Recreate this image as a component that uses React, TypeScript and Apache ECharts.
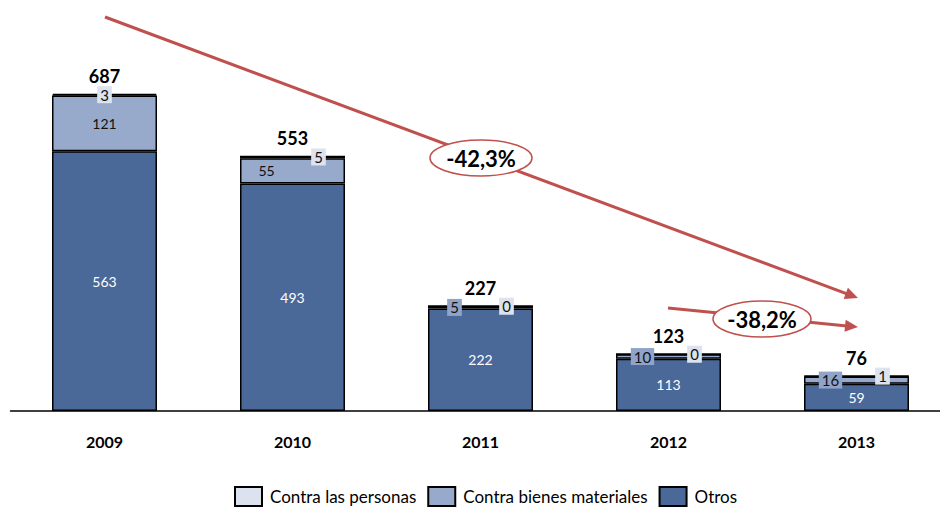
import React, { useEffect, useRef } from 'react';
import * as echarts from 'echarts';

const years = ['2009', '2010', '2011', '2012', '2013'];
const otros = [563, 493, 222, 113, 59];
const bienes = [121, 55, 5, 10, 16];
const personas = [3, 5, 0, 0, 1];
const totals = [687, 553, 227, 123, 76];
const seriesNames = ['Contra las personas', 'Contra bienes materiales', 'Otros'];
const changes = ['-42,3%', '-38,2%'];

const C_OTROS = '#4A6898';
const C_BIENES = '#97AACB';
const C_PERS = '#DCE3EE';
const RED = '#C0504D';
const FONT = 'Lato, "Open Sans", sans-serif';

function arrow(x1: number, y1: number, x2: number, y2: number) {
  const dx = x2 - x1;
  const dy = y2 - y1;
  const len = Math.sqrt(dx * dx + dy * dy);
  const ux = dx / len;
  const uy = dy / len;
  const hl = 13;
  const hw = 6;
  const bx = x2 - ux * hl;
  const by = y2 - uy * hl;
  return [
    {
      type: 'line',
      z: 100,
      shape: { x1, y1, x2: bx + ux * 2, y2: by + uy * 2 },
      style: { stroke: RED, lineWidth: 3 },
    },
    {
      type: 'polygon',
      z: 100,
      shape: {
        points: [
          [x2, y2],
          [bx - uy * hw, by + ux * hw],
          [bx + uy * hw, by - ux * hw],
        ],
      },
      style: { fill: RED },
    },
  ];
}

function bubble(cx: number, cy: number, rx: number, ry: number, text: string) {
  return [
    {
      type: 'ellipse',
      z: 101,
      shape: { cx, cy, rx, ry },
      style: { fill: '#fff', stroke: RED, lineWidth: 1.5 },
    },
    {
      type: 'text',
      z: 102,
      x: cx,
      y: cy,
      style: {
        text,
        fill: '#000',
        font: `bold 22px ${FONT}`,
        align: 'center',
        verticalAlign: 'middle',
      },
    },
  ];
}

export default function App() {
  const ref = useRef<HTMLDivElement>(null);
  useEffect(() => {
    document.body.style.margin = '0';
    if (!ref.current) return;
    const chart = echarts.init(ref.current, null, { renderer: 'svg' });

    const boxLabel = (bg: string, dx: number) => ({
      show: true,
      position: 'inside',
      offset: [dx, 0],
      color: '#111',
      fontSize: 15,
      fontFamily: FONT,
      backgroundColor: bg,
      padding: [1, 3],
    });

    const bienesData = bienes.map((v, i) => {
      if (i === 0) return { value: v, label: { show: true, position: 'inside', color: '#111', fontSize: 14, fontFamily: FONT } };
      if (i === 1) return { value: v, label: { show: true, position: 'inside', offset: [-26, 0], color: '#111', fontSize: 14, fontFamily: FONT } };
      return { value: v, label: boxLabel('#8FA4C8', -26) };
    });
    const persData = personas.map((v, i) => ({
      value: v,
      label: boxLabel(C_PERS, i === 0 ? 0 : 26),
    }));

    const border = { borderColor: '#000', borderWidth: 1.5 };

    chart.setOption({
      animation: false,
      textStyle: { fontFamily: FONT },
      grid: { left: 10.5, width: 940, top: 88, bottom: 96, containLabel: false, outerBoundsMode: 'none' },
      legend: {
        data: seriesNames,
        left: 234,
        bottom: 0,
        padding: 0,
        icon: 'rect',
        itemWidth: 27,
        itemHeight: 19,
        itemGap: 11,
        textStyle: { fontSize: 17, color: '#000', fontFamily: FONT, padding: [0, 0, 0, 3] },
      },
      xAxis: {
        type: 'category',
        data: years,
        axisLine: { lineStyle: { color: '#000', width: 1.5 } },
        axisTick: { show: false },
        axisLabel: { color: '#000', fontWeight: 'bold', fontSize: 16, margin: 22, fontFamily: FONT },
      },
      yAxis: { type: 'value', min: 0, max: 700, show: false, splitLine: { show: false } },
      series: [
        {
          name: 'Otros',
          type: 'bar',
          stack: 'a',
          barWidth: 105,
          data: otros,
          itemStyle: { color: C_OTROS, ...border },
          label: { show: true, position: 'inside', color: '#fff', fontSize: 14, fontFamily: FONT },
        },
        {
          name: 'Contra bienes materiales',
          type: 'bar',
          stack: 'a',
          data: bienesData,
          itemStyle: { color: C_BIENES, ...border },
        },
        {
          name: 'Contra las personas',
          type: 'bar',
          stack: 'a',
          data: persData,
          itemStyle: { color: C_PERS, ...border, borderWidth: 2 },
        },
        {
          name: 'Total',
          type: 'bar',
          stack: 'a',
          data: totals.map(() => 0),
          itemStyle: { color: 'transparent', borderWidth: 0 },
          label: {
            show: true,
            position: 'top',
            distance: 9,
            color: '#000',
            fontWeight: 'bold',
            fontSize: 18,
            fontFamily: FONT,
            formatter: (p: any) => String(totals[p.dataIndex]),
          },
        },
      ],
      graphic: [
        ...arrow(105, 17, 858, 298),
        ...bubble(481, 158, 51, 18, changes[0]),
        ...arrow(668, 308, 858, 327),
        ...bubble(762, 319, 49, 18, changes[1]),
      ],
    });
    return () => chart.dispose();
  }, []);
  return <div ref={ref} style={{ width: 940, height: 507 }} />;
}
